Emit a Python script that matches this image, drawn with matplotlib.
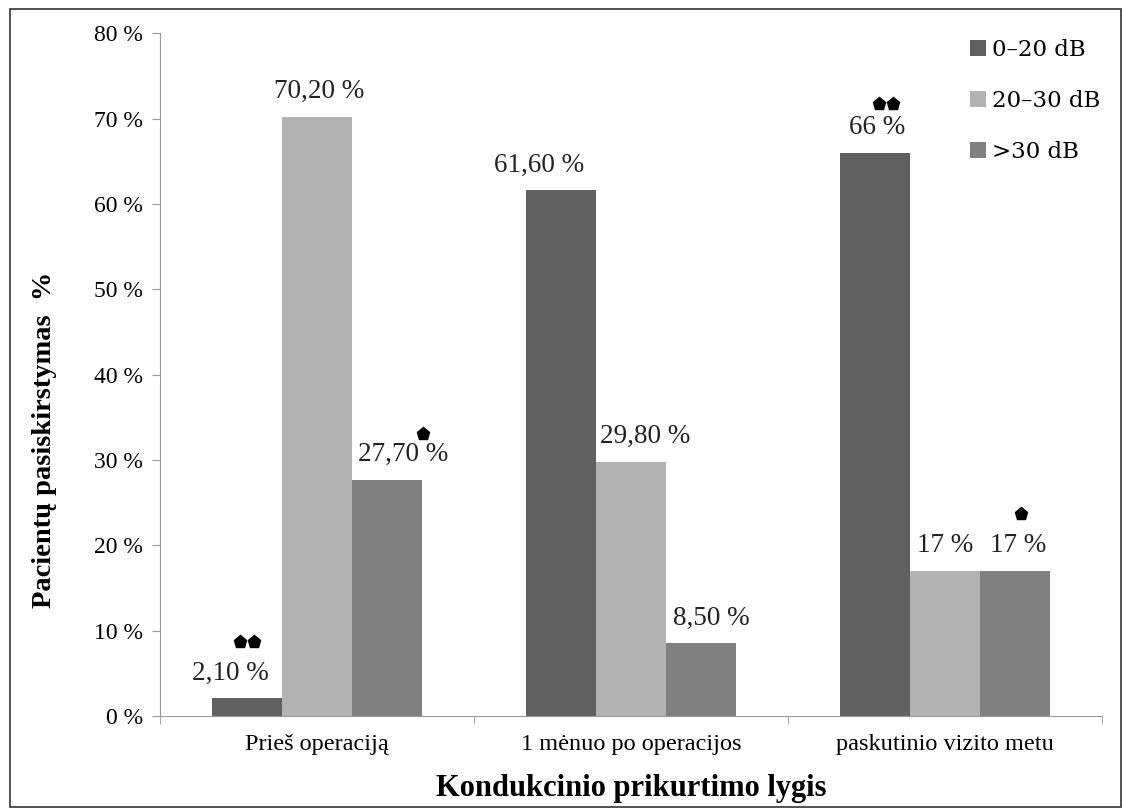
"""
Kondukcinio prikurtimo lygis - grouped bars
"""
import matplotlib
matplotlib.use('Agg')
import matplotlib.pyplot as plt
import numpy as np

plt.rcParams['font.family'] = ['Liberation Serif', 'DejaVu Serif']

categories = ['Prieš operaciją', '1 mėnuo po operacijos', 'paskutinio vizito metu']
series_names = ['0\u201320 dB', '20\u201330 dB', '>30 dB']
vals_0_20 = [2.1, 61.6, 66.0]
vals_20_30 = [70.2, 29.8, 17.0]
vals_30 = [27.7, 8.5, 17.0]
labels_0_20 = ['2,10 %', '61,60 %', '66 %']
labels_20_30 = ['70,20 %', '29,80 %', '17 %']
labels_30 = ['27,70 %', '8,50 %', '17 %']
# significance marks: (series index, category index, number of stars)
stars = [(0, 0, 2), (2, 0, 1), (0, 2, 2), (2, 2, 1)]

colors = ['#606060', '#b2b2b2', '#808080']
# label x shifts in pixels (manual placement like the original)
label_dx = [[-17, -22, 2], [2, 14, 0], [16, 10, 3]]

fig = plt.figure(figsize=(11.22, 8.09), dpi=100)
ax = fig.add_axes([0.1426, 0.115, 0.9822 - 0.1426, 0.959 - 0.115])

x = np.arange(len(categories))
w = 0.223
all_vals = [vals_0_20, vals_20_30, vals_30]
all_labels = [labels_0_20, labels_20_30, labels_30]
for s in range(3):
    xs = x + (s - 1) * w
    ax.bar(xs, all_vals[s], width=w, color=colors[s], label=series_names[s])
    for c in range(3):
        ax.annotate(all_labels[s][c], (xs[c], all_vals[s][c]),
                    xytext=(label_dx[s][c] * 0.72, 9), textcoords='offset points',
                    ha='center', va='bottom', fontsize=19.5, color='#222222')

# significance stars drawn as pentagon markers
star_pos = {(0, 0): (-0.245, 8.7), (2, 0): (0.338, 33.0),
            (0, 2): (1.79, 71.7), (2, 2): (2.242, 23.7)}
for s, c, n in stars:
    sx, sy = star_pos[(s, c)]
    xx = [sx + 0.043 * k for k in range(n)]
    ax.plot(xx, [sy] * n, linestyle='none', marker='p', markersize=9.5,
            color='black', clip_on=False)

ax.set_xlim(-0.5, 2.5)
ax.set_ylim(0, 80)
ax.set_yticks(np.arange(0, 81, 10))
ax.set_yticklabels(['%d %%' % v for v in range(0, 81, 10)], fontsize=17)
ax.set_xticks(x)
ax.set_xticklabels(categories, fontsize=17.5)
ax.set_xticks([-0.5, 0.5, 1.5, 2.5], minor=True)
ax.tick_params(axis='x', which='major', length=0, pad=13)
ax.tick_params(axis='x', which='minor', length=6, color='#999999')
ax.tick_params(axis='y', length=6, color='#999999', pad=6)

for sp in ['top', 'right']:
    ax.spines[sp].set_visible(False)
for sp in ['left', 'bottom']:
    ax.spines[sp].set_color('#999999')

ax.set_xlabel('Kondukcinio prikurtimo lygis', fontsize=22, fontweight='bold', labelpad=14)
ax.set_ylabel('Pacientų pasiskirstymas  %', fontsize=20.5, fontweight='bold')
ax.yaxis.set_label_coords(-0.109, 0.404)

lg = ax.legend(loc='upper right', bbox_to_anchor=(1.02, 1.022), frameon=False,
               prop={'family': 'DejaVu Serif', 'size': 16.5},
               handlelength=0.7, handleheight=0.7, handletextpad=0.25,
               labelspacing=1.28)

# outer border
fig.add_artist(plt.Rectangle((0.009, 0.003), 0.990, 0.986, transform=fig.transFigure,
                             fill=False, edgecolor='#333333', linewidth=1.2))

fig.savefig('out.png', dpi=100)
